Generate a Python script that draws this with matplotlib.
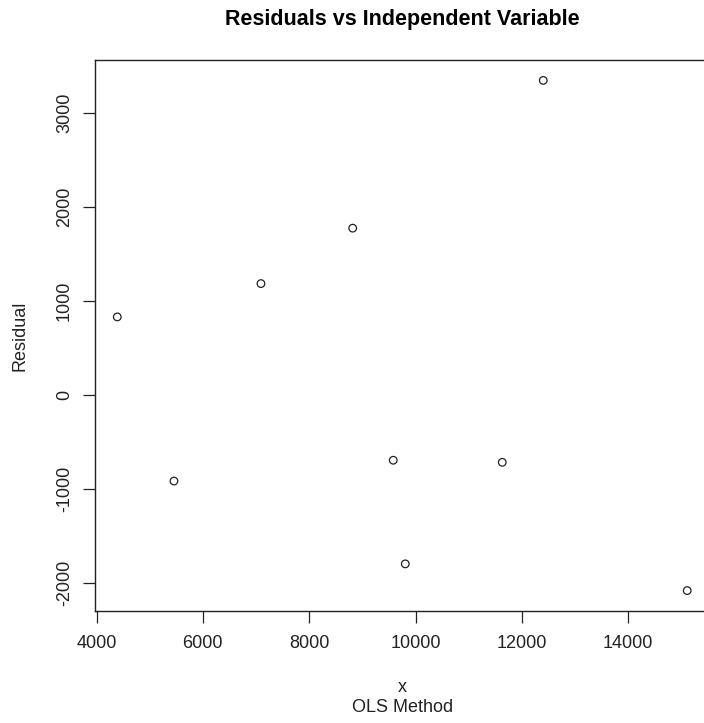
import matplotlib
matplotlib.use('Agg')
import matplotlib.pyplot as plt
import numpy as np

plt.rcParams['font.family'] = ['Liberation Sans', 'DejaVu Sans']

# values
x_vals = [4391, 5457, 7093, 8818, 9581, 9807, 11631, 12402, 15109]
residuals = [831, -913, 1185, 1774, -692, -1793, -714, 3344, -2077]
x_ticks = [4000, 6000, 8000, 10000, 12000, 14000]
y_ticks = [-2000, -1000, 0, 1000, 2000, 3000]

W, H = 704, 723
fig = plt.figure(figsize=(W / 100, H / 100), dpi=100)

# plot region in pixels (right edge runs past the picture like the reference)
left, right, top, bottom = 94.5, 710.0, 60.0, 611.0
ax = fig.add_axes([left / W, 1 - bottom / H, (right - left) / W, (bottom - top) / H])

ax.scatter(x_vals, residuals, s=30, facecolors='none', edgecolors='#222222',
           linewidths=0.9, clip_on=False)

# R style 4% padding
def r_lim(v):
	lo, hi = min(v), max(v)
	pad = (hi - lo) * 0.04
	return lo - pad, hi + pad

ax.set_xlim(*r_lim(x_vals))
ax.set_ylim(*r_lim(residuals))

ax.set_xticks(x_ticks)
ax.set_yticks(y_ticks)
ax.set_xticklabels([str(t) for t in x_ticks])
ax.set_yticklabels([str(t) for t in y_ticks], rotation=90, va='center')
ax.tick_params(axis='both', direction='out', length=8.5, width=0.9,
               labelsize=13, colors='#222222')
ax.tick_params(axis='x', pad=9)
ax.tick_params(axis='y', pad=7)
for sp in ax.spines.values():
	sp.set_linewidth(1.0)
	sp.set_color('#222222')

cx = (left + right) / 2 / W
fig.text(cx, 1 - 19 / H, 'Residuals vs Independent Variable', ha='center', va='center',
         fontsize=15.5, fontweight='bold')
fig.text(cx, 1 - 688 / H, 'x', ha='center', va='center', fontsize=13, color='#222222')
fig.text(cx, 1 - 708 / H, 'OLS Method', ha='center', va='center', fontsize=13, color='#222222')
fig.text(20 / W, 1 - 336 / H, 'Residual', ha='center', va='center', rotation=90,
         fontsize=13, color='#222222')

fig.savefig('out.png', dpi=100)
